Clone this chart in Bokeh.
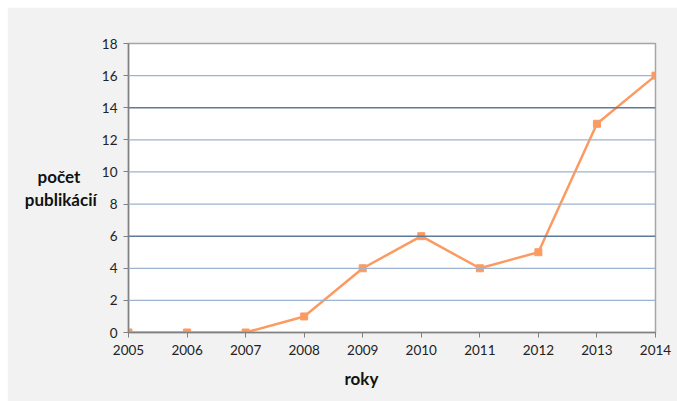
from bokeh.plotting import figure
from bokeh.models import Span, FixedTicker, Range1d, Title, Spacer
from bokeh.layouts import column, row
from bokeh.embed import file_html
from bokeh.resources import INLINE

years = [2005, 2006, 2007, 2008, 2009, 2010, 2011, 2012, 2013, 2014]
counts = [0, 0, 0, 1, 4, 6, 4, 5, 13, 16]
y_ticks = [0, 2, 4, 6, 8, 10, 12, 14, 16, 18]
dark_grid = [6, 14]
light_grid = [2, 4, 8, 10, 12, 16]
y_label = "počet\u00a0\u00a0\u00a0\u00a0\npublikácií"
x_label = "roky"

FONT = "Lato"

p = figure(width=670, height=394, output_backend="svg", toolbar_location=None,
           x_range=Range1d(2005, 2014), y_range=Range1d(0, 18),
           min_border_left=121, min_border_right=22, min_border_top=36, min_border_bottom=69)
p.background_fill_color = "white"
p.border_fill_color = "#f2f2f2"
p.outline_line_color = "#a6a6a6"
p.outline_line_width = 1.5
p.xgrid.grid_line_color = None
p.ygrid.grid_line_color = None

for v in light_grid:
    p.add_layout(Span(location=v, dimension="width", line_color="#9db3cf", line_width=1.2))
for v in dark_grid:
    p.add_layout(Span(location=v, dimension="width", line_color="#5f7a98", line_width=1.5))

p.line(years, counts, line_color="#fb9b62", line_width=2.5)
p.scatter(years, counts, marker="square", size=7, fill_color="#fb9b62", line_color="#fb9b62")

for ax in (p.xaxis[0], p.yaxis[0]):
    ax.axis_line_color = "#808080"
    ax.axis_line_width = 1.5
    ax.major_tick_line_color = "#808080"
    ax.major_tick_out = 5
    ax.major_tick_in = 0
    ax.minor_tick_line_color = None
    ax.major_label_text_font = FONT
    ax.major_label_text_font_size = "13.5px"
    ax.major_label_text_color = "#222222"

p.xaxis.ticker = FixedTicker(ticks=years)
p.yaxis.ticker = FixedTicker(ticks=y_ticks)
p.xaxis.major_label_standoff = 7
p.yaxis.major_label_standoff = 6

p.yaxis.axis_label = y_label
p.yaxis.axis_label_orientation = "horizontal"
p.yaxis.axis_label_text_font = FONT
p.yaxis.axis_label_text_font_style = "bold"
p.yaxis.axis_label_text_font_size = "17px"
p.yaxis.axis_label_text_color = "#111111"
p.yaxis.axis_label_text_line_height = 1.05
p.yaxis.axis_label_standoff = 2

p.add_layout(Title(text=x_label, align="left", offset=216, text_font=FONT,
                   text_font_style="bold", text_font_size="17px", text_color="#111111",
                   standoff=16), "below")

layout = column(Spacer(height=7), row(Spacer(width=7), p))
open("out.html", "w").write(file_html(layout, INLINE))
